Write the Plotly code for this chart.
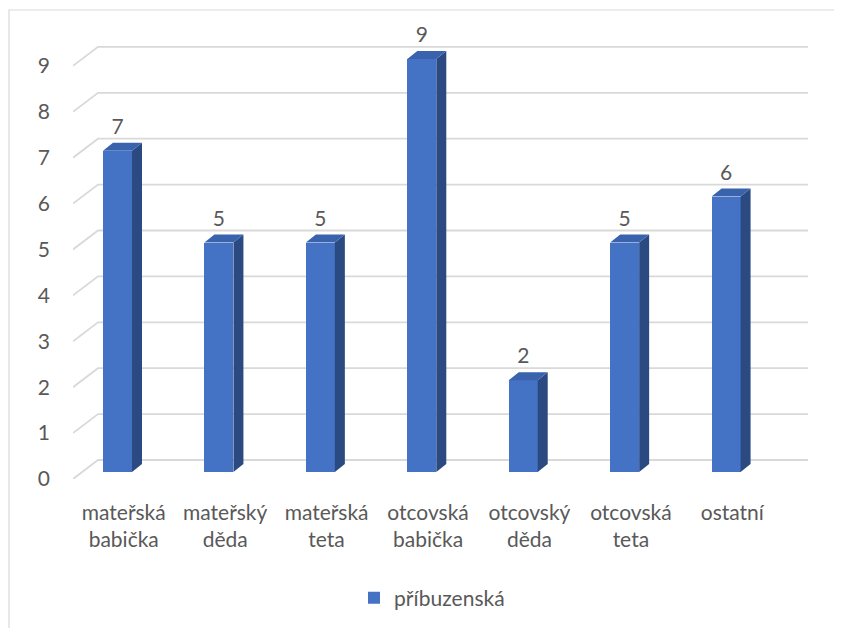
import plotly.graph_objects as go

categories = ["mateřská<br>babička", "mateřský<br>děda", "mateřská<br>teta",
              "otcovská<br>babička", "otcovský<br>děda", "otcovská<br>teta", "ostatní"]
values = [7, 5, 5, 9, 2, 5, 6]
series_name = "příbuzenská"
y_ticks = list(range(0, 10))

# ---- geometry (pixel-derived styling constants; page body adds an 8px offset) ----
W, H = 842, 628
OFF = 8
L, R, T, B = 73 - OFF, 20 + OFF, 10 - OFF, 149 + OFF
slot_px = 101.43
unit_px = 45.9
plot_w = W - L - R
plot_h = H - T - B
x_min = -0.5
x_max = x_min + plot_w / slot_px
y_max = plot_h / unit_px

wall_dx = 25 / slot_px     # back-wall shift
wall_dy = 19 / unit_px
bar_base = 7 / unit_px     # bar sits slightly behind the front edge
bar_shift = -0.0613        # front-face centre offset within slot
bar_w = 29 / slot_px
depth_dx = 10 / slot_px
depth_dy = 8 / unit_px

front_c = "#4472C4"
top_c = "#3A63AE"
side_c = "#2C4A82"
grid_c = "#D9D9D9"
txt_c = "#595959"
FONT = "Lato"
FS = 21

idx = list(range(len(categories)))
fig = go.Figure()

# gridlines (front diagonal + back wall line) as shapes below the bars
shapes = []
for v in y_ticks:
    path = "M {:.4f},{:.4f} L {:.4f},{:.4f} L {:.4f},{:.4f}".format(
        x_min, v, x_min + wall_dx, v + wall_dy, 6.5 + wall_dx, v + wall_dy)
    shapes.append(dict(type="path", xref="x", yref="y", path=path,
                       line=dict(color=grid_c, width=1.8), layer="below"))

# front faces
fig.add_trace(go.Bar(x=[i + bar_shift for i in idx], y=values, base=bar_base, width=bar_w,
                     marker=dict(color=front_c, line=dict(width=0)), name=series_name,
                     showlegend=True))

# side & top faces
sx, sy, tx, ty = [], [], [], []
for i, v in zip(idx, values):
    xl = i + bar_shift - bar_w / 2
    xr = i + bar_shift + bar_w / 2
    yb = bar_base
    yt = bar_base + v
    sx += [xr, xr + depth_dx, xr + depth_dx, xr, xr, None]
    sy += [yb, yb + depth_dy, yt + depth_dy, yt, yb, None]
    tx += [xl, xr, xr + depth_dx, xl + depth_dx, xl, None]
    ty += [yt, yt, yt + depth_dy, yt + depth_dy, yt, None]
fig.add_trace(go.Scatter(x=sx, y=sy, mode="lines", fill="toself", fillcolor=side_c,
                         line=dict(width=0, color=side_c), hoverinfo="skip", showlegend=False))
fig.add_trace(go.Scatter(x=tx, y=ty, mode="lines", fill="toself", fillcolor=top_c,
                         line=dict(width=0, color=top_c), hoverinfo="skip", showlegend=False))

# data labels
fig.add_trace(go.Scatter(x=[i + bar_shift for i in idx],
                         y=[bar_base + v + 22 / unit_px for v in values],
                         mode="text", text=[str(v) for v in values],
                         textposition="middle center",
                         textfont=dict(family=FONT, size=FS, color=txt_c),
                         hoverinfo="skip", showlegend=False, cliponaxis=False))

shapes.append(dict(type="rect", xref="paper", yref="paper",
                   x0=(9 - OFF - L) / plot_w, x1=(W + 20 - L) / plot_w,
                   y0=(H - B - (H + 20)) / plot_h, y1=(H - B - (10 - OFF)) / plot_h,
                   line=dict(color=grid_c, width=1.2), layer="below"))

fig.update_layout(
    width=W, height=H, autosize=False,
    margin=dict(l=L, r=R, t=T, b=B, pad=0),
    paper_bgcolor="white", plot_bgcolor="white",
    font=dict(family=FONT, color=txt_c),
    xaxis=dict(range=[x_min, x_max], tickmode="array", tickvals=idx, ticktext=categories,
               showgrid=False, zeroline=False, showline=False, ticks="", automargin=False,
               tickfont=dict(family=FONT, size=FS, color=txt_c), ticklabelstandoff=19),
    yaxis=dict(range=[0, y_max], tickmode="array", tickvals=y_ticks,
               ticktext=[str(t) for t in y_ticks], automargin=False,
               showgrid=False, zeroline=False, showline=False, ticks="",
               tickfont=dict(family=FONT, size=FS, color=txt_c), ticklabelstandoff=22),
    legend=dict(orientation="h", x=(346 - L) / plot_w, xanchor="left",
                y=(H - B - (598 - OFF)) / plot_h, yanchor="middle",
                font=dict(family=FONT, size=FS, color=txt_c), bgcolor="rgba(0,0,0,0)"),
    shapes=shapes,
    bargap=0,
)

fig.write_html("out.html")
